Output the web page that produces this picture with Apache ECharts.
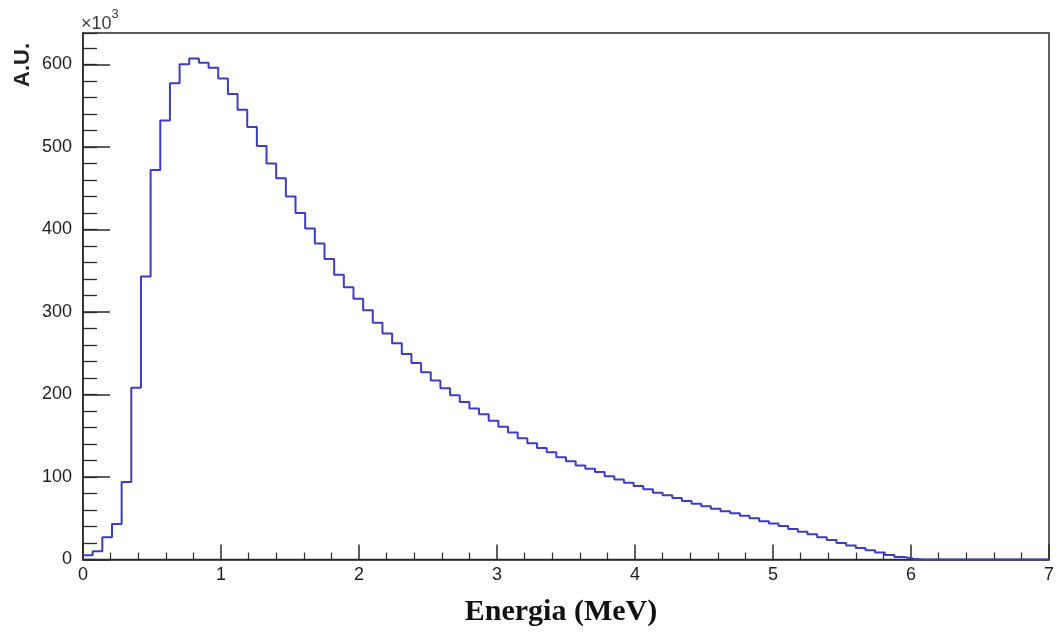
<!DOCTYPE html>
<html>
<head>
<meta charset="utf-8">
<script src="https://cdn.jsdelivr.net/npm/echarts@6/dist/echarts.min.js"></script>
<style>
html,body{margin:0;padding:0;background:#fff;}
#chart{width:1057px;height:632px;}
</style>
</head>
<body>
<div id="chart"></div>
<script>
// Histogram: 100 bins of 0.07 MeV from 0 to 7 MeV, counts in units of 10^3
const binLow = 0;
const binWidth = 0.07;
const counts = [
  5, 10, 27, 43, 94, 208, 343, 472, 532, 577,
  600, 607, 602, 596, 583, 564, 545, 524, 501, 480,
  462, 440, 420, 401, 383, 364, 345, 330, 316, 302,
  287, 274, 262, 249, 238, 227, 217, 207.5, 199, 191,
  183, 176, 168, 161, 154, 147, 141, 135, 130, 124,
  119, 114, 110, 106, 101, 97, 93, 89, 85, 81,
  78, 74.5, 71, 67.5, 64.5, 61.5, 58.5, 56, 53, 50,
  46.5, 43.5, 40.5, 37, 33.5, 30.5, 27, 23.5, 20, 17,
  14, 11.3, 8.5, 5.5, 3, 1, 0, 0, 0, 0,
  0, 0, 0, 0, 0, 0, 0, 0, 0, 0
];
const xTickLabels = ['0', '1', '2', '3', '4', '5', '6', '7'];
const yTickLabels = ['0', '100', '200', '300', '400', '500', '600'];
const xTitle = 'Energia (MeV)';
const yTitle = 'A.U.';

const points = counts.map((c, i) => [binLow + i * binWidth, c]);
points.push([binLow + counts.length * binWidth, counts[counts.length - 1]]);

const chart = echarts.init(document.getElementById('chart'), null, {renderer: 'canvas'});
const frame = '#2a2a2a';
const labelColor = '#1e1e1e';
chart.setOption({
  animation: false,
  backgroundColor: '#fff',
  grid: {left: 83, right: 6, top: 33, bottom: 72.5, show: true, borderColor: frame, borderWidth: 1.5, containLabel: false},
  xAxis: {
    type: 'value', min: 0, max: 7, interval: 1,
    axisLine: {show: true, onZero: false, lineStyle: {color: frame, width: 1.5}},
    axisTick: {show: true, inside: true, length: 15, lineStyle: {color: frame, width: 1.5}},
    minorTick: {show: true, splitNumber: 5, length: 7, lineStyle: {color: frame, width: 1.2}},
    splitLine: {show: false},
    axisLabel: {margin: 7, fontFamily: 'Liberation Sans', fontSize: 18, color: labelColor,
      formatter: v => xTickLabels[Math.round(v)] ?? ''}
  },
  yAxis: [
    {
      type: 'value', min: 0, max: 638, interval: 20, position: 'left',
      axisLine: {show: true, onZero: false, lineStyle: {color: frame, width: 1.5}},
      axisTick: {show: true, inside: true, length: 14, lineStyle: {color: frame, width: 1.3}},
      splitLine: {show: false},
      axisLabel: {show: false}
    },
    {
      type: 'value', min: 0, max: 638, interval: 100, position: 'left', offset: 0,
      axisLine: {show: false},
      axisTick: {show: true, inside: true, length: 27, lineStyle: {color: frame, width: 1.5}},
      splitLine: {show: false},
      axisLabel: {show: true, showMaxLabel: false, margin: 11, fontFamily: 'Liberation Sans', fontSize: 18, color: labelColor,
        formatter: v => { const i = Math.round(v / 100); return (Math.abs(v - i * 100) < 1e-6 && yTickLabels[i] !== undefined) ? yTickLabels[i] : ''; }}
    }
  ],
  series: [{
    type: 'line',
    step: 'end',
    xAxisIndex: 0, yAxisIndex: 0,
    data: points,
    showSymbol: false,
    symbol: 'none',
    lineStyle: {color: '#3c3cc4', width: 2},
    z: 5
  }],
  graphic: [
    {type: 'text', left: 81, top: 8,
      style: {text: '{a|×10}{b|3}', rich: {
        a: {fontFamily: 'Liberation Sans', fontSize: 18, fill: '#3a3a3a', padding: [7, 0, 0, 0]},
        b: {fontFamily: 'Liberation Sans', fontSize: 13, fill: '#3a3a3a', verticalAlign: 'top'}
      }}},
    {type: 'text', x: 22.5, y: 65, rotation: Math.PI / 2,
      style: {text: yTitle, fontFamily: 'Liberation Sans', fontWeight: 'bold', fontSize: 22, fill: '#222', align: 'center', verticalAlign: 'middle'}},
    {type: 'text', x: 561, y: 612,
      style: {text: xTitle, fontFamily: 'Liberation Serif', fontWeight: 'bold', fontSize: 30, fill: '#111', align: 'center', verticalAlign: 'middle'}}
  ]
});
</script>
</body>
</html>
